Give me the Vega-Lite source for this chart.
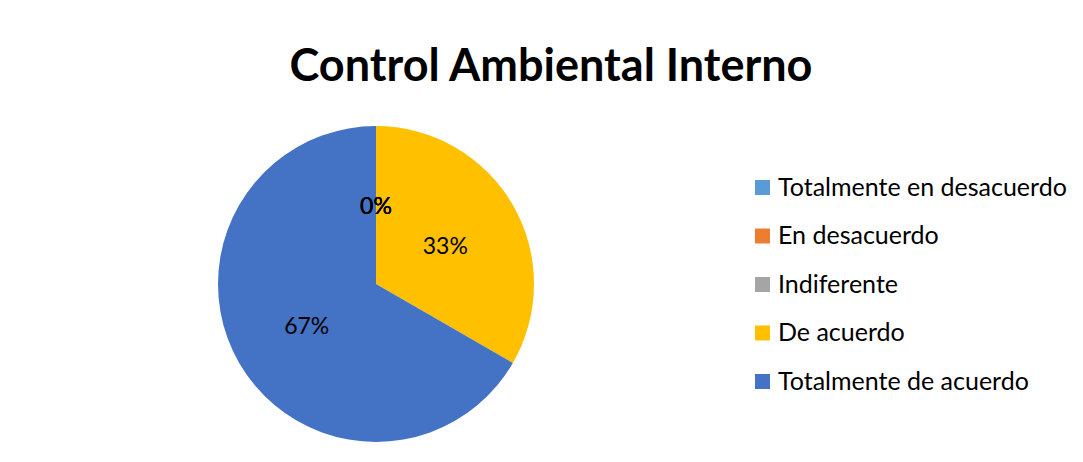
{
  "$schema": "https://vega.github.io/schema/vega-lite/v6.json",
  "width": 752,
  "height": 316,
  "autosize": {"type": "none"},
  "padding": {"left": 0, "top": 126, "right": 331, "bottom": 20},
  "background": "white",
  "title": {
    "text": "Control Ambiental Interno",
    "font": "Lato",
    "fontSize": 45,
    "fontWeight": "bold",
    "color": "black",
    "anchor": "middle",
    "dx": 175,
    "offset": 0,
    "baseline": "alphabetic"
  },
  "data": {
    "values": [
      {"category": "Totalmente en desacuerdo", "value": 0, "label": "0%", "idx": 1},
      {"category": "En desacuerdo", "value": 0, "label": "0%", "idx": 2},
      {"category": "Indiferente", "value": 0, "label": "0%", "idx": 3},
      {"category": "De acuerdo", "value": 33.33, "label": "33%", "idx": 4},
      {"category": "Totalmente de acuerdo", "value": 66.67, "label": "67%", "idx": 5}
    ]
  },
  "encoding": {
    "theta": {"field": "value", "type": "quantitative", "stack": true},
    "order": {"field": "idx", "type": "quantitative"}
  },
  "layer": [
    {
      "mark": {"type": "arc", "outerRadius": 158, "strokeWidth": 0},
      "encoding": {
        "color": {
          "field": "category",
          "type": "nominal",
          "sort": ["Totalmente en desacuerdo", "En desacuerdo", "Indiferente", "De acuerdo", "Totalmente de acuerdo"],
          "scale": {
            "domain": ["Totalmente en desacuerdo", "En desacuerdo", "Indiferente", "De acuerdo", "Totalmente de acuerdo"],
            "range": ["#5B9BD5", "#ED7D31", "#A5A5A5", "#FFC000", "#4472C4"]
          },
          "legend": {
            "title": null,
            "orient": "none",
            "legendX": 750,
            "legendY": 49,
            "symbolType": "square",
            "symbolSize": 225,
            "symbolStrokeWidth": 0,
            "labelFont": "Lato",
            "labelFontSize": 25,
            "labelColor": "black",
            "labelOffset": 3,
            "rowPadding": 22.5,
            "labelLimit": 400
          }
        }
      }
    },
    {
      "mark": {"type": "text", "radius": 80, "font": "Lato", "fontSize": 23, "color": "black", "baseline": "middle", "align": "center", "dy": 3},
      "encoding": {
        "text": {"field": "label", "type": "nominal"}
      }
    }
  ]
}
